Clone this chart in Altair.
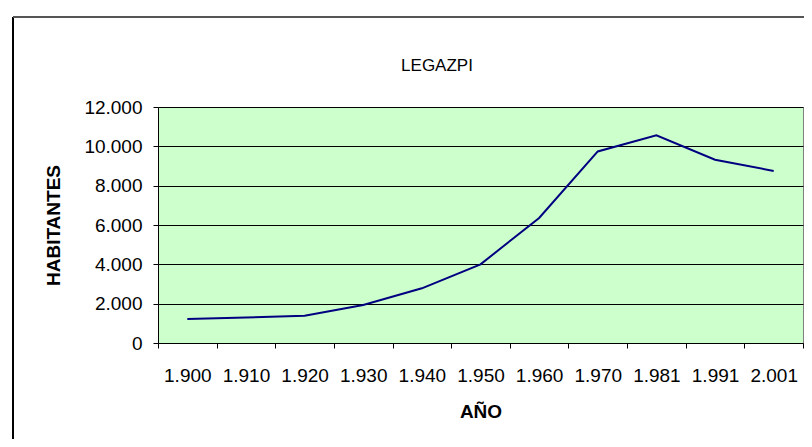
import altair as alt
import pandas as pd

years = ["1.900", "1.910", "1.920", "1.930", "1.940", "1.950", "1.960",
         "1.970", "1.981", "1.991", "2.001"]
habitantes = [1220, 1300, 1390, 1930, 2780, 4000, 6360, 9740, 10560, 9320, 8750]
y_ticks = [0, 2000, 4000, 6000, 8000, 10000, 12000]
title_text = "LEGAZPI"

df = pd.DataFrame({"year": years, "hab": habitantes})

FONT = "Liberation Sans"
FS = 19
W, H = 645, 236

line = alt.Chart(df).mark_line(color="#000080", strokeWidth=2).encode(
    x=alt.X("year:N", sort=years,
            scale=alt.Scale(type="band", paddingInner=0, paddingOuter=0),
            axis=alt.Axis(title="AÑO", labelAngle=0, tickBand="extent",
                          domainColor="black", tickColor="black", tickSize=5,
                          labelFont=FONT, labelFontSize=FS, labelColor="black",
                          labelPadding=18,
                          titleFont=FONT, titleFontSize=FS, titleFontWeight="bold",
                          titleColor="black", titleX=W / 2, titleY=68,
                          titleBaseline="middle", titleAlign="center",
                          grid=False)),
    y=alt.Y("hab:Q", scale=alt.Scale(domain=[0, 12000], nice=False),
            axis=alt.Axis(title="HABITANTES", values=y_ticks,
                          labelExpr="replace(format(datum.value, ','), ',', '.')",
                          domainColor="black", tickColor="black", tickSize=5,
                          labelFont=FONT, labelFontSize=FS, labelColor="black",
                          labelPadding=11,
                          titleFont=FONT, titleFontSize=FS, titleFontWeight="bold",
                          titleColor="black", titleAngle=-90, titleX=-105,
                          titleY=H / 2, titleBaseline="middle", titleAlign="center",
                          grid=True, gridColor="black", gridWidth=1, gridOpacity=1)),
)

frame_left = alt.Chart().mark_rule(color="black", strokeWidth=2).encode(
    x=alt.value(-145), y=alt.value(-90), y2=alt.value(400))
frame_top = alt.Chart().mark_rule(color="#555555", strokeWidth=2).encode(
    x=alt.value(-145), x2=alt.value(700), y=alt.value(-90))

title = alt.Chart().mark_text(font=FONT, fontSize=17, color="black",
                              align="center", baseline="middle").encode(
    x=alt.value(279), y=alt.value(-41), text=alt.value(title_text))

chart = alt.layer(frame_left, frame_top, title, line).properties(
    width=W, height=H,
    autosize=alt.AutoSizeParams(type="none"),
    padding={"left": 150, "top": 99, "right": 1, "bottom": 96},
).configure_view(
    fill="#CCFFCC", stroke="#808080", strokeWidth=1
)

chart.save("out.html", embed_options={"renderer": "svg", "actions": False})
